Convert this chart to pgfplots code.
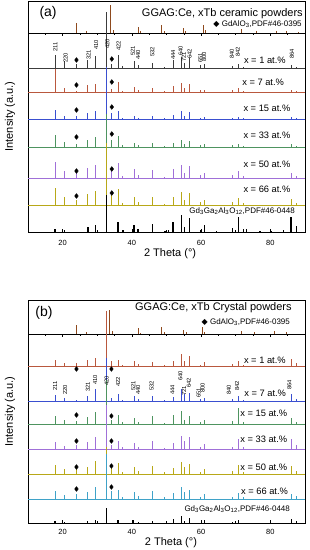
\documentclass[border=0pt]{standalone}
\usepackage{pgfplots}
\usepackage{pgfplotstable}
\pgfplotsset{compat=1.18}
\usepackage{fontspec}
\setmainfont{Liberation Sans}
\newfontfamily\djv{DejaVu Sans}

\definecolor{cdark}{HTML}{3C3C3C}
\definecolor{cred}{HTML}{B9583E}
\definecolor{cblue}{HTML}{3A4FD0}
\definecolor{cgreen}{HTML}{4E9460}
\definecolor{cpurple}{HTML}{A070D8}
\definecolor{cyellow}{HTML}{B8A818}
\definecolor{cteal}{HTML}{3FA2C8}
\definecolor{cbrown}{HTML}{8E4A1E}

% peak heights above each pattern's baseline
\pgfplotstableread{
tt a1 a7 a15 a33 a50 a66
17.8 13 23 9 12 16 17
20.6 7 4 3 5 7 8
24.0 4 1.5 3 3 5 5
27.3 8 7 6 7 10 11
29.4 12 8 8 10 13 14
32.7 56 22 52 33 25 62
34.2 4 3 6 7 8 10
36.0 13 10 8 11 15 16
37.4 2 1.5 1.5 2 2 2
40.6 7 5 3 4 9 8
41.8 3 2 1.5 2 3 3
45.9 5 4 3 4 8 8
49.3 1.5 1 1 1.5 1.5 1.5
51.9 8 6 4 4 9 8
54.4 11 9 8 7 13 13
55.3 5 4 3 3 5 5
56.7 10 8 7 6 12 12
59.9 3 2 1.5 2 3 3
60.9 4 2 2 3 5 5
69.0 2 2 1.5 2 3 3
70.7 4 4 2 3 7 7
72.2 1.5 1.5 1 1.5 2 2
86.0 3 2 2 3 5 6
87.6 1.5 1 1 1.5 2 2
}\tabA

\pgfplotstableread{
tt b1 b7 b15 b33 b50 b66
17.8 6 6 8 7 9 8
20.6 3 3 4 3 5 4
24.0 3 1.5 3 4 5 5
27.3 6 5 7 7 7 7
29.4 8 12 12 12 13 12
32.7 55 43 44 44 27 45
34.2 5 3 4 4 7 8
36.0 6 7 9 8 11 9
37.4 1.5 1.5 2 2 2 2
40.6 5 5 6 6 7 7
41.8 2 2 2 2 3 3
45.9 4 5 8 8 8 8
49.3 1 1 1.5 1.5 2 2
51.9 5 4 9 6 6 6
54.4 12 12 13 13 12 12
55.3 5 7 4 8 7 7
56.7 10 8 8 12 10 9
59.9 1.5 2 2 2 2 2
60.9 4 3 4 5 5 5
69.0 2 2 3 2 3 2
70.7 5 5 16 10 9 6
72.2 1.5 1.5 2 2 2 2
86.0 7 7 6 10 8 5
87.6 3 2 2 4 3 3
}\tabB

% GdAlO3 PDF#46-0395 sticks
\pgfplotstableread{
tt h
24.1 10
26.9 2
33.8 28
34.6 3
41.9 6
42.4 2
48.6 8
49.4 2
54.9 5
55.6 2
60.8 8
61.4 3
71.6 4
75.9 2
81.9 2
84.6 2
88.0 1.5
}\refTA

\pgfplotstableread{
tt h
24.0 9
26.8 2
33.6 24
34.3 3
41.8 6
42.4 1.5
48.5 7
49.4 2
54.8 4
55.7 2
60.3 7
61.0 2
71.6 3
75.5 2
81.2 3
84.6 2
}\refTB

% Gd3Ga2Al3O12 PDF#46-0448 sticks
\pgfplotstableread{
tt h
17.8 3
20.6 2
27.3 5
29.4 7
32.7 37
36.0 10
37.4 2
40.6 7
41.8 3
45.9 8
49.6 1.5
50.5 2
51.9 10
54.4 17
55.3 5
56.7 14
59.9 2
60.9 7
64.5 1
69.0 4
70.7 15
72.2 3
73.1 3
77.0 1.5
80.4 1.5
83.7 2.5
86.0 15
87.6 6
}\refBA

\pgfplotstableread{
tt h
17.8 2
20.6 1.5
27.3 2.5
29.4 3
32.7 15
36.0 3
40.6 3
41.8 1.5
45.9 2.5
51.9 4
54.4 7
55.3 2
56.7 5
60.9 3
69.0 1.5
70.7 3
86.0 4
87.6 2
}\refBB

% small tick marks under the top reference baseline
\pgfplotstableread{
tt h
15 -2
20 -2.5
25 -2
30 -2
35 -2
40 -2.5
45 -2
50 -2
55 -2
60 -2.5
65 -2
70 -2
75 -2
80 -2.5
85 -2
}\refticks

\pgfplotsset{
  xrdaxis/.style={
    scale only axis, width=277pt,
    xmin=10, xmax=90, ymin=0,
    axis line style={line width=0.8pt},
    xtick={20,40,60,80}, minor xtick={10,30,50,70,90},
    ytick=\empty, xtick pos=bottom, tick align=inside,
    major tick length=3.5pt, minor tick length=2pt,
    every tick/.style={black, line width=0.7pt},
    /pgf/number format/assume math mode=true,
    xticklabel style={font=\fontsize{7.5}{9}\selectfont, anchor=center},
    xlabel={2 Theta (°)}, ylabel={Intensity (a.u.)},
    label style={font=\fontsize{11}{13}\selectfont},
  },
  pk/.style={line width=0.8pt},
  dia/.style={only marks, mark=diamond*, mark size=2.4pt, black},
}
\tikzset{
  hkl/.style={rotate=90, anchor=west, inner sep=0pt, font=\fontsize{5.8}{6}\selectfont},
  samp/.style={inner sep=0pt, font=\fontsize{9.3}{11}\selectfont},
}

\begin{document}
\begin{tikzpicture}
\path[use as bounding box] (0,0) rectangle (310pt,-550pt);

% ================= panel (a) =================
\begin{axis}[xrdaxis, at={(28pt,-232pt)}, anchor=south west, height=231pt, ymax=231,
  xticklabel style={yshift=-11pt},
  xlabel style={at={(axis description cs:0.513,-0.095)}, anchor=center},
  ylabel style={at={(axis description cs:-0.065,0.5)}, anchor=center}]
% GdAlO3 reference (top)
\addplot[black, line width=0.8pt] coordinates {(10,199) (90,199)};
\addplot[black, line width=0.6pt, quiver={u=0,v=\thisrow{h}}] table[x=tt, y expr=199] {\refticks};
\addplot[cbrown, line width=1pt, quiver={u=0,v=\thisrow{h}}] table[x=tt, y expr=199] {\refTA};
% x = 1
\addplot[cdark, pk] coordinates {(10,164) (90,164)};
\addplot[cdark, pk, quiver={u=0,v=\thisrow{a1}}] table[x=tt, y expr=164] {\tabA};
% x = 7
\addplot[cred, pk] coordinates {(10,140) (90,140)};
\addplot[cred, pk, quiver={u=0,v=\thisrow{a7}}] table[x=tt, y expr=140] {\tabA};
% x = 15
\addplot[cblue, pk] coordinates {(10,113) (90,113)};
\addplot[cblue, pk, quiver={u=0,v=\thisrow{a15}}] table[x=tt, y expr=113] {\tabA};
% x = 33
\addplot[cgreen, pk] coordinates {(10,85) (90,85)};
\addplot[cgreen, pk, quiver={u=0,v=\thisrow{a33}}] table[x=tt, y expr=85] {\tabA};
% x = 50
\addplot[cpurple, pk] coordinates {(10,54) (90,54)};
\addplot[cpurple, pk, quiver={u=0,v=\thisrow{a50}}] table[x=tt, y expr=54] {\tabA};
% x = 66
\addplot[cyellow, pk] coordinates {(10,27) (90,27)};
\addplot[cyellow, pk, quiver={u=0,v=\thisrow{a66}}] table[x=tt, y expr=27] {\tabA};
% Gd3Ga2Al3O12 reference (bottom)
\addplot[black, line width=1.3pt, quiver={u=0,v=\thisrow{h}}] table[x=tt, y expr=0] {\refBA};
% GdAlO3 markers
\addplot[dia] coordinates {(24.0,172) (34.2,173) (24.0,147) (34.2,150) (24.0,122) (34.2,125)
  (24.0,95) (34.2,98) (24.0,61) (34.2,63) (24.0,36) (34.2,39)};
% hkl labels
\node[hkl] at (axis cs:17.9,180) {211};
\node[hkl] at (axis cs:20.9,169) {220};
\node[hkl] at (axis cs:27.5,172) {321};
\node[hkl] at (axis cs:29.7,182) {410};
\node[hkl] at (axis cs:32.9,183) {420};
\node[hkl] at (axis cs:36.2,181) {422};
\node[hkl] at (axis cs:40.3,176) {521};
\node[hkl] at (axis cs:41.8,172) {440};
\node[hkl] at (axis cs:45.9,175) {532};
\node[hkl] at (axis cs:51.9,172) {444};
\node[hkl] at (axis cs:54.1,176) {640};
\node[hkl] at (axis cs:55.0,170) {721};
\node[hkl] at (axis cs:56.7,173) {642};
\node[hkl] at (axis cs:59.8,169) {651};
\node[hkl] at (axis cs:60.9,170) {800};
\node[hkl] at (axis cs:68.9,173) {840};
\node[hkl] at (axis cs:70.6,175) {842};
\node[hkl] at (axis cs:86.2,173) {864};
% sample labels
\node[samp] at (axis cs:78.4,172) {x = 1 at.\%};
\node[samp] at (axis cs:77.9,150) {x = 7 at.\%};
\node[samp] at (axis cs:79.0,124) {x = 15 at.\%};
\node[samp] at (axis cs:79.0,97) {x = 33 at.\%};
\node[samp] at (axis cs:79.0,68) {x = 50 at.\%};
\node[samp] at (axis cs:79.0,43) {x = 66 at.\%};
\node[inner sep=0pt, anchor=east, font=\fontsize{8}{9}\selectfont] at (axis cs:87.1,21)
  {Gd\textsubscript{3}Ga\textsubscript{2}Al\textsubscript{3}O\textsubscript{12},PDF\#46-0448};
% titles
\node[inner sep=0pt, font=\fontsize{14}{16}\selectfont] at (axis cs:15.8,219) {(a)};
\node[inner sep=0pt, anchor=east, font=\fontsize{11}{13}\selectfont] at (axis cs:89.4,218.5) {GGAG:Ce, xTb ceramic powders};
\node[inner sep=0pt, anchor=east, font=\fontsize{8}{9}\selectfont] at (axis cs:89.1,208) {{\djv ◆} GdAlO\textsubscript{3},PDF\#46-0395};
\end{axis}

% ================= panel (b) =================
\begin{axis}[xrdaxis, at={(28pt,-523pt)}, anchor=south west, height=223pt, ymax=223,
  xticklabel style={yshift=-9pt},
  xlabel style={at={(axis description cs:0.516,-0.09)}, anchor=center},
  ylabel style={at={(axis description cs:-0.065,0.5)}, anchor=center}]
% GdAlO3 reference (top)
\addplot[black, line width=0.8pt] coordinates {(10,189) (90,189)};
\addplot[black, line width=0.6pt, quiver={u=0,v=\thisrow{h}}] table[x=tt, y expr=189] {\refticks};
\addplot[cbrown, line width=1pt, quiver={u=0,v=\thisrow{h}}] table[x=tt, y expr=189] {\refTB};
% x = 1
\addplot[cred, pk] coordinates {(10,157) (90,157)};
\addplot[cred, pk, quiver={u=0,v=\thisrow{b1}}] table[x=tt, y expr=157] {\tabB};
% x = 7
\addplot[cblue, pk] coordinates {(10,122) (90,122)};
\addplot[cblue, pk, quiver={u=0,v=\thisrow{b7}}] table[x=tt, y expr=122] {\tabB};
% x = 15
\addplot[cgreen, pk] coordinates {(10,99) (90,99)};
\addplot[cgreen, pk, quiver={u=0,v=\thisrow{b15}}] table[x=tt, y expr=99] {\tabB};
% x = 33
\addplot[cpurple, pk] coordinates {(10,74) (90,74)};
\addplot[cpurple, pk, quiver={u=0,v=\thisrow{b33}}] table[x=tt, y expr=74] {\tabB};
% x = 50
\addplot[cyellow, pk] coordinates {(10,49) (90,49)};
\addplot[cyellow, pk, quiver={u=0,v=\thisrow{b50}}] table[x=tt, y expr=49] {\tabB};
% x = 66
\addplot[cteal, pk] coordinates {(10,24) (90,24)};
\addplot[cteal, pk, quiver={u=0,v=\thisrow{b66}}] table[x=tt, y expr=24] {\tabB};
% Gd3Ga2Al3O12 reference (bottom)
\addplot[black, line width=1.1pt, quiver={u=0,v=\thisrow{h}}] table[x=tt, y expr=0] {\refBB};
% GdAlO3 markers
\addplot[dia] coordinates {(24.0,154) (34.1,154) (24.0,108) (34.1,107) (24.0,82) (34.1,82)
  (24.0,56) (34.1,57) (24.0,34) (34.1,36)};
% hkl labels
\node[hkl] at (axis cs:17.8,132) {211};
\node[hkl] at (axis cs:20.7,128) {220};
\node[hkl] at (axis cs:27.3,131) {321};
\node[hkl] at (axis cs:29.4,138) {410};
\node[hkl] at (axis cs:32.7,137) {420};
\node[hkl] at (axis cs:36.0,136) {422};
\node[hkl] at (axis cs:40.4,132) {521};
\node[hkl] at (axis cs:41.8,128) {440};
\node[hkl] at (axis cs:45.7,132) {532};
\node[hkl] at (axis cs:51.7,128) {444};
\node[hkl] at (axis cs:54.0,142) {640};
\node[hkl] at (axis cs:55.1,127) {721};
\node[hkl] at (axis cs:56.5,135) {642};
\node[hkl] at (axis cs:59.3,125) {651};
\node[hkl] at (axis cs:60.4,130) {800};
\node[hkl] at (axis cs:68.0,128) {840};
\node[hkl] at (axis cs:70.4,132) {842};
\node[hkl] at (axis cs:85.5,133) {864};
% sample labels
\node[samp] at (axis cs:78.4,163) {x = 1 at.\%};
\node[samp] at (axis cs:78.5,130) {x = 7 at.\%};
\node[samp] at (axis cs:78.1,110) {x = 15 at.\%};
\node[samp] at (axis cs:78.1,84) {x = 33 at.\%};
\node[samp] at (axis cs:78.1,56) {x = 50 at.\%};
\node[samp] at (axis cs:78.3,32) {x = 66 at.\%};
\node[inner sep=0pt, anchor=east, font=\fontsize{8}{9}\selectfont] at (axis cs:85.7,14)
  {Gd\textsubscript{3}Ga\textsubscript{2}Al\textsubscript{3}O\textsubscript{12},PDF\#46-0448};
% titles
\node[inner sep=0pt, font=\fontsize{14}{16}\selectfont] at (axis cs:14.6,210) {(b)};
\node[inner sep=0pt, anchor=east, font=\fontsize{11}{13}\selectfont] at (axis cs:86.2,215.5) {GGAG:Ce, xTb Crystal powders};
\node[inner sep=0pt, anchor=east, font=\fontsize{8}{9}\selectfont] at (axis cs:85.7,201) {{\djv ◆} GdAlO\textsubscript{3},PDF\#46-0395};
\end{axis}
\end{tikzpicture}
\end{document}
